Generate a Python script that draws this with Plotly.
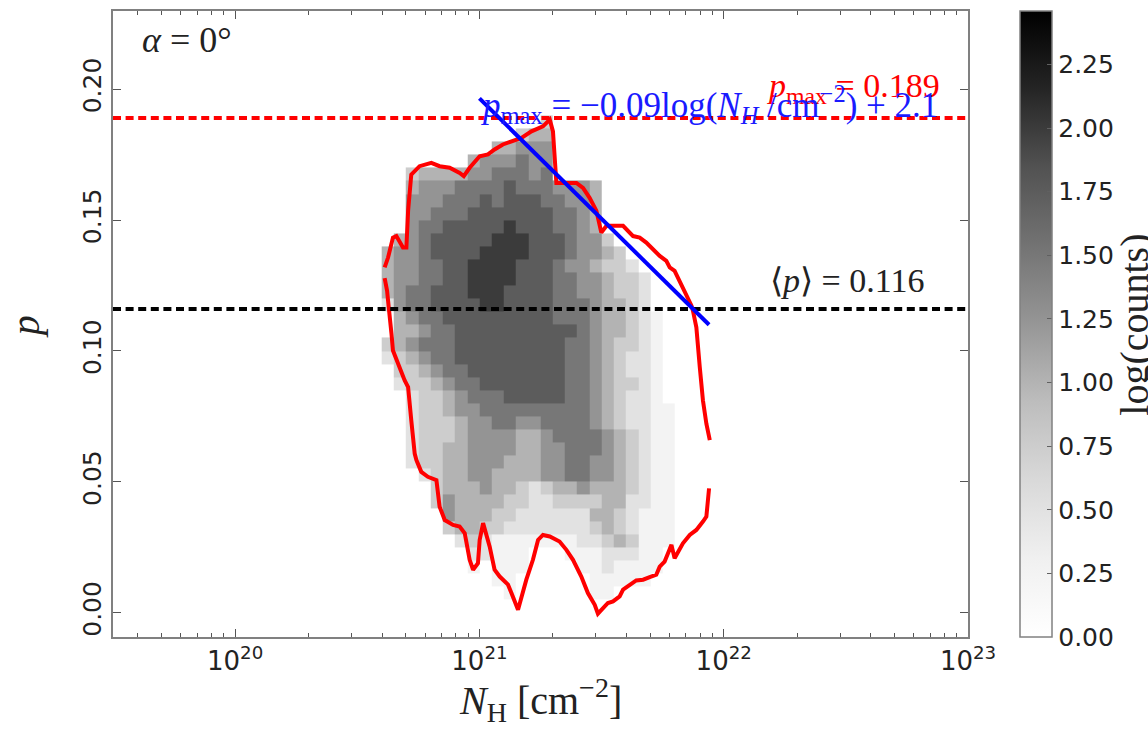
import plotly.graph_objects as go

# ---------------- data ----------------
# 2D histogram: log10(N_H) bin edges and p bin edges
LOGN_EDGES = [20.60, 20.65, 20.70, 20.75, 20.80, 20.85, 20.90, 20.95, 21.00, 21.05,
              21.10, 21.15, 21.20, 21.25, 21.30, 21.35, 21.40, 21.45, 21.50, 21.55,
              21.60, 21.65, 21.70, 21.75, 21.80, 21.85, 21.90, 21.95, 22.00]
P_EDGES = [0.000, 0.005, 0.010, 0.015, 0.020, 0.025, 0.030, 0.035, 0.040, 0.045,
           0.050, 0.055, 0.060, 0.065, 0.070, 0.075, 0.080, 0.085, 0.090, 0.095,
           0.100, 0.105, 0.110, 0.115, 0.120, 0.125, 0.130, 0.135, 0.140, 0.145,
           0.150, 0.155, 0.160, 0.165, 0.170, 0.175, 0.180, 0.185, 0.190]
# log(counts) levels per cell, one string per p-row (top row first);
# digit d means log(counts) = d * LEVEL_STEP, '.' means an empty bin
LEVEL_STEP = 0.25
HIST_ROWS_TOP_DOWN = [
    ".............3",
    "...........344",
    ".........44555",
    ".......4555655",
    "..344445566656",
    "..4555666676665554",
    "..5556667677766554",
    "..5566677777776654",
    "..5667777787776654",
    ".456777778887776553",
    "45567777888877765543",
    "455667788887776554332",
    "4556677888877766554332",
    "4566777888777766554332",
    "2566777788777766654432",
    ".4566777777777666544321",
    ".4456677777777776544321",
    "34566677777777766543321",
    "23456677777777766543221",
    ".3345667777777766543221",
    ".2334566777777766543321",
    "..233456667777766543221",
    "..2334556666666665432211",
    "..2333455665566665432211",
    "..2333455554456666543211",
    "..2334455554455666543211",
    "..2334455544455665543211",
    "...234455444455665543211",
    "....34445443234454443211",
    "....35444433223333442211",
    ".....5444332222224432111",
    ".....3443322222223432111",
    "......232111111122343111",
    ".......22111...11122211",
    ".......1.111....1121111",
    ".........11......11111",
    "..........1......11",
    "",
]

# red outline (two open pieces), log10(N_H) and p
CONTOUR_UPPER_LOGN = [20.612, 20.626, 20.646, 20.660, 20.687, 20.701, 20.708, 20.714, 20.721, 20.755,
                      20.803, 20.837, 20.878, 20.919, 20.936, 20.960, 21.001, 21.035, 21.062, 21.096,
                      21.137, 21.172, 21.213, 21.260, 21.288, 21.301, 21.315, 21.362, 21.397, 21.424,
                      21.451, 21.479, 21.499, 21.520, 21.588, 21.629, 21.656, 21.683, 21.710, 21.738,
                      21.765, 21.779, 21.799, 21.820, 21.847, 21.868, 21.874, 21.888, 21.902, 21.915,
                      21.929, 21.943]
CONTOUR_UPPER_P = [0.1319, 0.1357, 0.1433, 0.1439, 0.1395, 0.1395, 0.1535, 0.1623, 0.1674, 0.1706,
                   0.1719, 0.1706, 0.1700, 0.1680, 0.1668, 0.1700, 0.1744, 0.1751, 0.1770, 0.1789,
                   0.1801, 0.1814, 0.1839, 0.1858, 0.1884, 0.1839, 0.1642, 0.1642, 0.1642, 0.1623,
                   0.1585, 0.1535, 0.1452, 0.1478, 0.1478, 0.1439, 0.1433, 0.1414, 0.1389, 0.1363,
                   0.1344, 0.1319, 0.1306, 0.1268, 0.1217, 0.1173, 0.1154, 0.1090, 0.0938, 0.0811,
                   0.0722, 0.0659]
CONTOUR_LOWER_LOGN = [21.940, 21.929, 21.915, 21.888, 21.861, 21.833, 21.799, 21.786, 21.772, 21.758,
                      21.738, 21.724, 21.697, 21.670, 21.642, 21.615, 21.588, 21.574, 21.547, 21.526,
                      21.506, 21.485, 21.472, 21.444, 21.417, 21.383, 21.356, 21.328, 21.288, 21.260,
                      21.240, 21.219, 21.192, 21.158, 21.131, 21.117, 21.083, 21.062, 21.042, 21.015,
                      21.001, 20.994, 20.974, 20.960, 20.940, 20.919, 20.892, 20.858, 20.837, 20.824,
                      20.789, 20.762, 20.742, 20.735, 20.721, 20.708, 20.694, 20.667, 20.646, 20.640,
                      20.633, 20.626, 20.622, 20.612]
CONTOUR_LOWER_P = [0.0475, 0.0367, 0.0348, 0.0316, 0.0297, 0.0265, 0.0208, 0.0259, 0.0227, 0.0195,
                   0.0176, 0.0145, 0.0136, 0.0126, 0.0123, 0.0107, 0.0088, 0.0062, 0.0043, 0.0037,
                   0.0018, -0.0004, 0.0030, 0.0075, 0.0138, 0.0202, 0.0240, 0.0272, 0.0291, 0.0297,
                   0.0278, 0.0202, 0.0126, 0.0011, 0.0075, 0.0107, 0.0138, 0.0164, 0.0252, 0.0342,
                   0.0278, 0.0189, 0.0164, 0.0202, 0.0303, 0.0329, 0.0335, 0.0354, 0.0405, 0.0506,
                   0.0519, 0.0538, 0.0583, 0.0608, 0.0735, 0.0862, 0.0887, 0.0951, 0.1002, 0.1065,
                   0.1154, 0.1192, 0.1230, 0.1278]

P_MAX_CONST = 0.189
P_MEAN = 0.116
FIT_LOGN = [21.00, 21.94]
FIT_P = [0.1965, 0.110]

X_RANGE_LOG = [19.5, 23.0]
Y_RANGE = [-0.0093, 0.2299]
X_TICK_EXP = [20, 21, 22, 23]
X_MINOR_MULT = [2, 3, 4, 5, 6, 7, 8, 9]
X_MINOR_EXP = [19, 20, 21, 22]
Y_TICKS = [0.00, 0.05, 0.10, 0.15, 0.20]
CB_TICKS = [0.00, 0.25, 0.50, 0.75, 1.00, 1.25, 1.50, 1.75, 2.00, 2.25]
CB_MAX = 2.46


def lin(e):
    return float(10.0 ** float(e))


# ---------------- build ----------------
ncols = len(LOGN_EDGES) - 1
z = []
for row in reversed(HIST_ROWS_TOP_DOWN):
    row = row.ljust(ncols, ".")[:ncols]
    z.append([None if ch == "." else int(ch) * LEVEL_STEP for ch in row])

x_edges = [lin(e) for e in LOGN_EDGES]

greys = [[0.0, "#ffffff"], [0.125, "#f0f0f0"], [0.25, "#d9d9d9"], [0.375, "#bdbdbd"],
         [0.5, "#969696"], [0.625, "#737373"], [0.75, "#525252"], [0.875, "#252525"],
         [1.0, "#000000"]]

fig = go.Figure()
fig.add_trace(go.Heatmap(
    x=x_edges, y=P_EDGES, z=z, zmin=0, zmax=CB_MAX, colorscale=greys,
    showscale=True, hoverongaps=False,
    colorbar=dict(
        x=1.0608, xanchor="left", xpad=0, ypad=0, y=0.5, yanchor="middle",
        len=1.0, lenmode="fraction", thickness=32, thicknessmode="pixels",
        outlinecolor="#808080", outlinewidth=1.5,
        tickmode="array", tickvals=CB_TICKS, ticktext=[f"{v:.2f}" for v in CB_TICKS],
        ticks="inside", ticklen=5, tickcolor="#606060",
        tickfont=dict(family="DejaVu Sans", size=25, color="#222222"),
    ),
))

red = "#ff0000"
fig.add_trace(go.Scatter(x=[lin(v) for v in CONTOUR_UPPER_LOGN], y=CONTOUR_UPPER_P,
                         mode="lines", line=dict(color=red, width=4), showlegend=False))
fig.add_trace(go.Scatter(x=[lin(v) for v in CONTOUR_LOWER_LOGN], y=CONTOUR_LOWER_P,
                         mode="lines", line=dict(color=red, width=4), showlegend=False))

# horizontal reference lines across the whole axis
xs_full = [lin(X_RANGE_LOG[0]), lin(X_RANGE_LOG[1])]
fig.add_trace(go.Scatter(x=xs_full, y=[P_MAX_CONST, P_MAX_CONST], mode="lines",
                         line=dict(color=red, width=4, dash="8px,4.6px"), showlegend=False))
fig.add_trace(go.Scatter(x=xs_full, y=[P_MEAN, P_MEAN], mode="lines",
                         line=dict(color="#000000", width=4, dash="8px,4.6px"), showlegend=False))

fig.add_trace(go.Scatter(x=[lin(v) for v in FIT_LOGN], y=FIT_P, mode="lines",
                         line=dict(color="#0000ff", width=4), showlegend=False))

axis_line = "#808080"
fig.update_xaxes(
    type="log", range=X_RANGE_LOG,
    showline=True, linecolor=axis_line, linewidth=2, mirror="ticks",
    showgrid=False, zeroline=False,
    tickmode="array", tickvals=[lin(e) for e in X_TICK_EXP],
    ticktext=[f"10<sup>{e}</sup>" for e in X_TICK_EXP],
    ticks="inside", ticklen=8, tickwidth=1, tickcolor="#555555",
    tickfont=dict(family="DejaVu Sans", size=26, color="#222222"),
    minor=dict(tickmode="array",
               tickvals=[m * lin(e) for e in X_MINOR_EXP for m in X_MINOR_MULT],
               ticks="inside", ticklen=4, tickwidth=1, tickcolor="#555555", showgrid=False),
)
fig.update_yaxes(
    range=Y_RANGE,
    showline=True, linecolor=axis_line, linewidth=2, mirror="ticks",
    showgrid=False, zeroline=False,
    tickmode="array", tickvals=Y_TICKS, ticktext=[f"{v:.2f}" for v in Y_TICKS],
    ticks="inside", ticklen=8, tickwidth=1, tickcolor="#555555", tickangle=-90,
    tickfont=dict(family="DejaVu Sans", size=25, color="#222222"),
)

serif = "Liberation Serif"
annos = [
    dict(text="<i>α</i> = 0°", x=0.0316, y=0.954, xanchor="left", yanchor="middle",
         font=dict(family=serif, size=36, color="#222222")),
    dict(text="⟨<i>p</i>⟩ = 0.116", x=0.766, y=0.569, xanchor="left", yanchor="middle",
         font=dict(family=serif, size=34, color="#222222")),
    dict(text="<i>p</i><sub>max</sub> = 0.189", x=0.7625, y=0.877, xanchor="left", yanchor="middle",
         font=dict(family=serif, size=34, color=red)),
    dict(text="<i>p</i><sub>max</sub> = −0.09log(<i>N<sub>H</sub></i> /cm<sup>−2</sup>) + 2.1",
         x=0.4267, y=0.851, xanchor="left", yanchor="middle",
         font=dict(family=serif, size=35, color="#1a1aff")),
    dict(text="<i>N</i><sub>H</sub> [cm<sup>−2</sup>]", x=0.5, y=-0.10, xanchor="center",
         yanchor="middle", font=dict(family=serif, size=40, color="#222222")),
    dict(text="<i>p</i>", x=-0.102, y=0.496, xanchor="center", yanchor="middle", textangle=-90,
         font=dict(family=serif, size=40, color="#222222")),
    dict(text="log(counts)", x=1.1954, y=0.499, xanchor="center", yanchor="middle", textangle=-90,
         font=dict(family=serif, size=40, color="#222222")),
]
for a in annos:
    fig.add_annotation(xref="paper", yref="paper", showarrow=False, **a)

fig.update_layout(
    width=1148, height=731,
    margin=dict(l=113, r=180, t=9, b=94),
    paper_bgcolor="white", plot_bgcolor="white",
    showlegend=False,
)

fig.write_html("out.html")
